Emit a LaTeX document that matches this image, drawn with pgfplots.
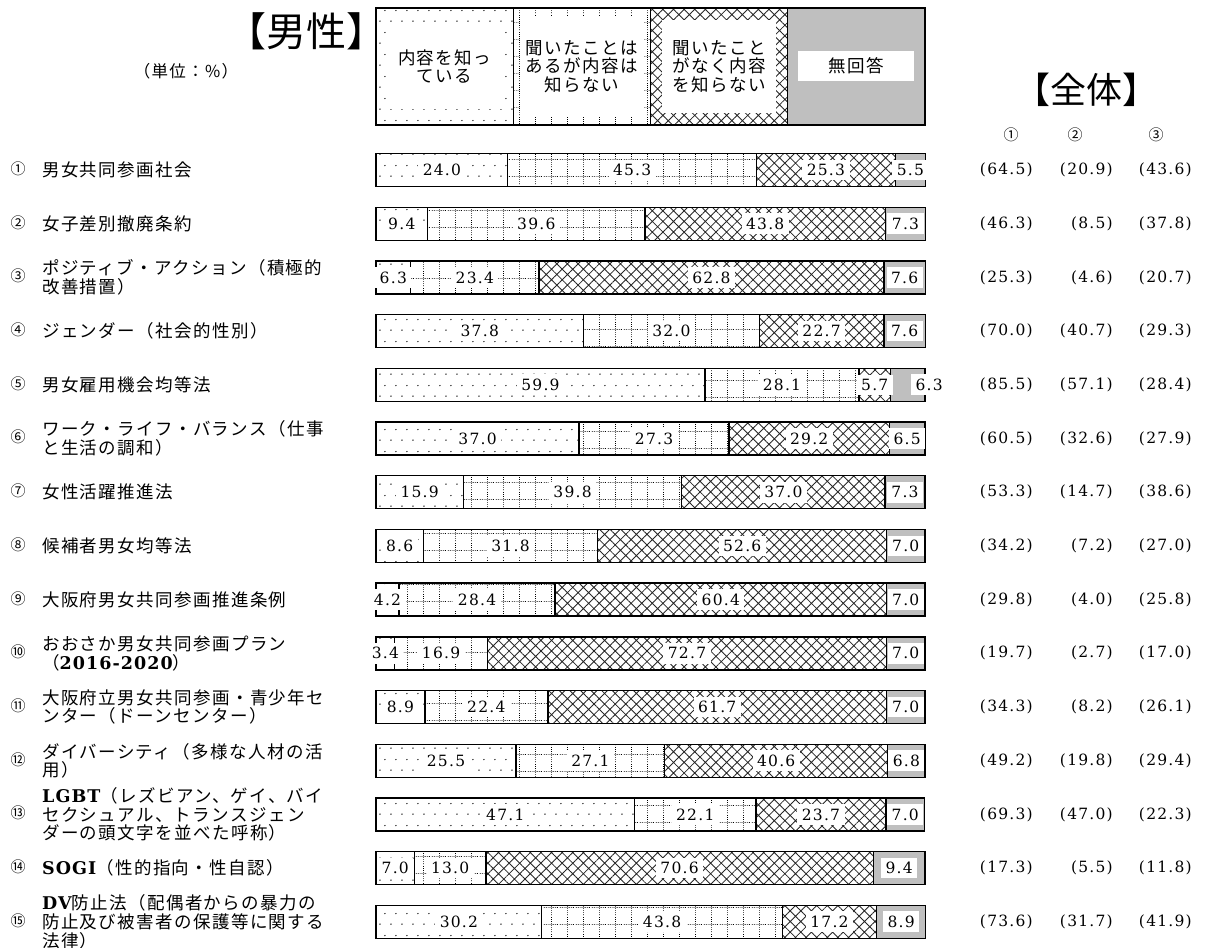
\documentclass[border=0pt]{standalone}
\usepackage{fontspec}
\setmainfont{Noto Sans CJK JP}
\newfontfamily\jpf{Noto Sans CJK JP}[LetterSpace=8]
\newfontfamily\numf{DejaVu Serif}[LetterSpace=8]
\newfontfamily\latb{DejaVu Serif}[LetterSpace=6]
\usepackage{pgfplots}
\usepackage{pgfplotstable}
\pgfplotsset{compat=1.18}
\usetikzlibrary{patterns,patterns.meta}
\pgfkeys{/pgf/number format/assume math mode=true}

\newcommand\jp{\jpf\fontsize{17.5bp}{18.7bp}\selectfont}
\newcommand\numsz{\numf\fontsize{15.5bp}{17bp}\selectfont}
\newcommand\lb[1]{{\latb\bfseries #1}}
\newcommand\lab[2]{\makebox[34bp][l]{\makebox[20bp]{\fontsize{15bp}{18bp}\selectfont\rmfamily #1}}\parbox[c]{320bp}{\raggedright #2}}

\tikzdeclarepattern{
  name=sdots, type=uncolored,
  bounding box={(0,0) and (10.5bp,22bp)},
  tile size={(10.5bp,22bp)},
  code={\pgfpathcircle{\pgfpoint{2bp}{3bp}}{0.75bp}\pgfpathcircle{\pgfpoint{7.25bp}{14bp}}{0.75bp}\pgfusepath{fill}}
}
\tikzdeclarepattern{
  name=dgrid, type=uncolored,
  bounding box={(0,0) and (16bp,17bp)},
  tile size={(16bp,17bp)},
  code={\draw[line width=0.75bp, dash pattern=on 0.75bp off 1.25bp] (0,8bp) -- (16bp,8bp);
        \draw[line width=0.75bp, dash pattern=on 0.75bp off 1.375bp] (8bp,0) -- (8bp,17bp);}
}

\pgfplotstableread{
row v1 v2 v3 v4 a1 a2 a3
1 24.0 45.3 25.3 5.5 64.5 20.9 43.6
2 9.4 39.6 43.8 7.3 46.3 8.5 37.8
3 6.3 23.4 62.8 7.6 25.3 4.6 20.7
4 37.8 32.0 22.7 7.6 70.0 40.7 29.3
5 59.9 28.1 5.7 6.3 85.5 57.1 28.4
6 37.0 27.3 29.2 6.5 60.5 32.6 27.9
7 15.9 39.8 37.0 7.3 53.3 14.7 38.6
8 8.6 31.8 52.6 7.0 34.2 7.2 27.0
9 4.2 28.4 60.4 7.0 29.8 4.0 25.8
10 3.4 16.9 72.7 7.0 19.7 2.7 17.0
11 8.9 22.4 61.7 7.0 34.3 8.2 26.1
12 25.5 27.1 40.6 6.8 49.2 19.8 29.4
13 47.1 22.1 23.7 7.0 69.3 47.0 22.3
14 7.0 13.0 70.6 9.4 17.3 5.5 11.8
15 30.2 43.8 17.2 8.9 73.6 31.7 41.9
}\data

\pgfplotsset{
  seg/.style={draw=black, line width=1.4bp},
  lbl/.style={draw=none, fill=none,
    visualization depends on=rawx \as \segv,
    visualization depends on=rawy \as \rowv,
    nodes near coords={\pgfmathprintnumber[fixed,fixed zerofill,precision=1]{\segv}},
    every node near coord/.style={anchor=center, fill=white, text=black,
      inner xsep=4.5bp, inner ysep=4.5bp, font=\numsz,
      xshift={#1}}},
  lbl/.default=0bp,
  frame/.style={at={(376bp,-143.15bp)}, anchor=north west,
    scale only axis, width=549bp, height=805.5bp,
    xbar stacked, bar width=33bp,
    xmin=0, xmax=100, ymin=0.5, ymax=15.5, y dir=reverse,
    enlargelimits=false, clip=false},
}

\begin{document}
\begin{tikzpicture}
\useasboundingbox (0,0) rectangle (1211bp,-948bp);
\begin{axis}[frame,
  axis line style={draw=none}, tick style={draw=none}, major tick length=0pt,
  xtick=\empty, ytick={1,...,15},
  yticklabel style={font=\jp, anchor=west, inner sep=0pt, xshift=-368bp},
  yticklabels={
   {\lab{①}{男女共同参画社会}},
   {\lab{②}{女子差別撤廃条約}},
   {\lab{③}{ポジティブ・アクション（積極的\\改善措置）}},
   {\lab{④}{ジェンダー（社会的性別）}},
   {\lab{⑤}{男女雇用機会均等法}},
   {\lab{⑥}{ワーク・ライフ・バランス（仕事\\と生活の調和）}},
   {\lab{⑦}{女性活躍推進法}},
   {\lab{⑧}{候補者男女均等法}},
   {\lab{⑨}{大阪府男女共同参画推進条例}},
   {\lab{⑩}{おおさか男女共同参画プラン\\（\lb{2016-2020}）}},
   {\lab{⑪}{大阪府立男女共同参画・青少年セ\\ンター（ドーンセンター）}},
   {\lab{⑫}{ダイバーシティ（多様な人材の活\\用）}},
   {\lab{⑬}{\lb{LGBT}（レズビアン、ゲイ、バイ\\セクシュアル、トランスジェン\\ダーの頭文字を並べた呼称）}},
   {\lab{⑭}{\lb{SOGI}（性的指向・性自認）}},
   {\lab{⑮}{\lb{DV}防止法（配偶者からの暴力の\\防止及び被害者の保護等に関する\\法律）}}
  },
]
\addplot[seg, pattern=sdots] table[x=v1, y=row] {\data};
\addplot[seg, pattern=dgrid] table[x=v2, y=row] {\data};
\addplot[seg, pattern={Hatch[angle=45,distance=7.5bp,line width=0.85bp]}, pattern color=black!85] table[x=v3, y=row] {\data};
\addplot[seg, fill=gray!50] table[x=v4, y=row] {\data};
\end{axis}
\begin{axis}[frame, hide axis]
\addplot[lbl] table[x=v1, y=row] {\data};
\addplot[lbl] table[x=v2, y=row] {\data};
\addplot[lbl] table[x=v3, y=row] {\data};
\addplot[lbl={21.5bp*(\rowv==5)}] table[x=v4, y=row] {\data};
\end{axis}
\begin{scope}[x=1bp,y=-1bp]
  % legend
  \draw[line width=1.4bp, pattern=sdots] (376,8) rectangle (513.25,125);
  \draw[line width=1.4bp, pattern=dgrid] (513.25,8) rectangle (650.5,125);
  \draw[line width=1.4bp, pattern={Hatch[angle=45,distance=7.5bp,line width=0.85bp]}, pattern color=black!85] (650.5,8) rectangle (787.75,125);
  \draw[line width=1.4bp, fill=gray!50] (787.75,8) rectangle (925,125);
  \node[fill=white, minimum width=116bp, minimum height=84bp, align=center, font=\jp, inner sep=0pt] at (444.6,66.5) {内容を知っ\\ている};
  \node[fill=white, minimum width=124bp, minimum height=100bp, align=center, font=\jp, inner sep=0pt] at (581.9,66.5) {聞いたことは\\あるが内容は\\知らない};
  \node[fill=white, minimum width=114bp, minimum height=92bp, align=center, font=\jp, inner sep=0pt] at (719.1,66.5) {聞いたこと\\がなく内容\\を知らない};
  \node[fill=white, minimum width=116bp, minimum height=30bp, align=center, font=\jp, inner sep=0pt] at (856.4,66) {無回答};
  % titles
  \node[anchor=base, font=\fontsize{40bp}{44bp}\selectfont, inner sep=0pt] at (307,46) {【男性】};
  \node[anchor=base, font=\fontsize{36bp}{40bp}\selectfont, inner sep=0pt] at (1086,103) {【全体】};
  \node[font=\jpf\fontsize{16.5bp}{18bp}\selectfont, inner sep=0pt] at (186,71) {（単位：\%）};
  \node[font=\fontsize{15bp}{18bp}\selectfont, inner sep=0pt] at (1011,135) {①};
  \node[font=\fontsize{15bp}{18bp}\selectfont, inner sep=0pt] at (1075,135) {②};
  \node[font=\fontsize{15bp}{18bp}\selectfont, inner sep=0pt] at (1156,135) {③};
  % overall values
  \foreach \i in {0,...,14} {
    \pgfplotstablegetelem{\i}{a1}\of\data \let\va\pgfplotsretval
    \pgfplotstablegetelem{\i}{a2}\of\data \let\vb\pgfplotsretval
    \pgfplotstablegetelem{\i}{a3}\of\data \let\vc\pgfplotsretval
    \pgfmathsetmacro\yy{170+\i*53.7}
    \node[anchor=east, font=\numsz, inner sep=0pt] at (1033,\yy) {(\pgfmathprintnumber[fixed,fixed zerofill,precision=1]{\va})};
    \node[anchor=east, font=\numsz, inner sep=0pt] at (1113,\yy) {(\pgfmathprintnumber[fixed,fixed zerofill,precision=1]{\vb})};
    \node[anchor=east, font=\numsz, inner sep=0pt] at (1192,\yy) {(\pgfmathprintnumber[fixed,fixed zerofill,precision=1]{\vc})};
  }
\end{scope}
\end{tikzpicture}
\end{document}
